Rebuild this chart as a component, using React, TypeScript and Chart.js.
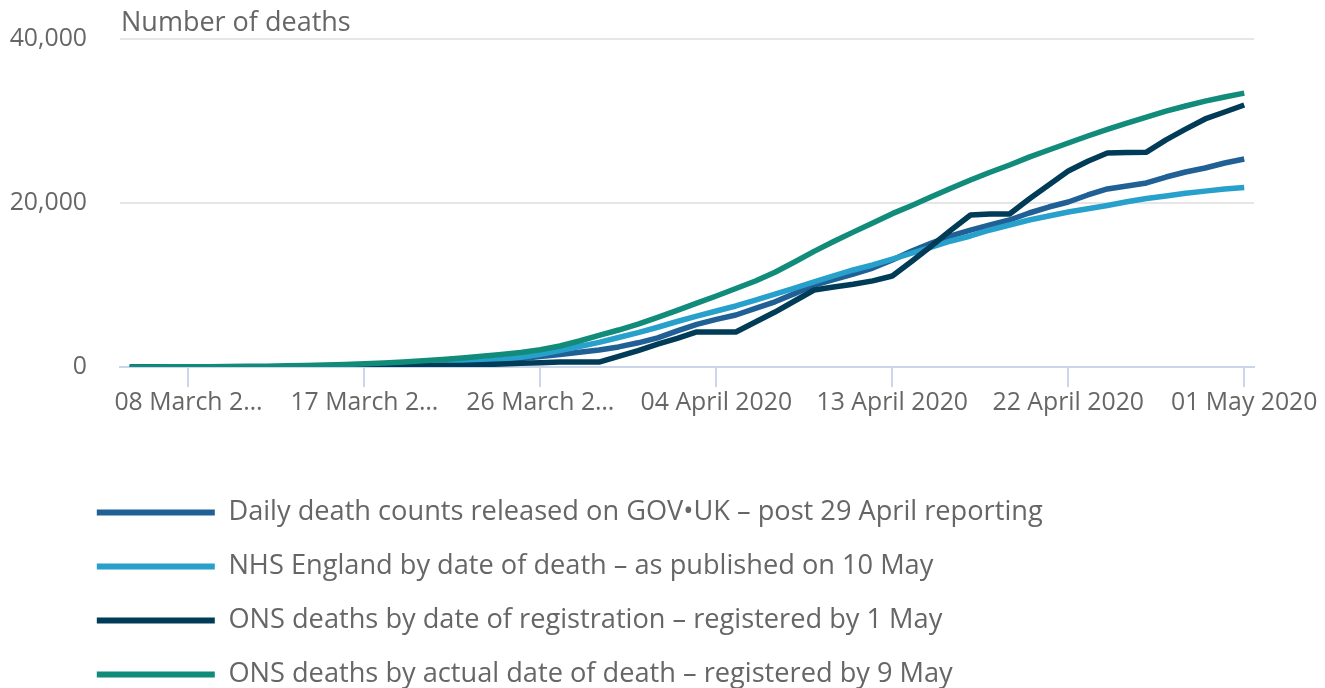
import React, { useEffect, useRef } from "react";
import { Chart, registerables } from "chart.js";

Chart.register(...registerables);

const dates = [
  "05 March 2020", "06 March 2020", "07 March 2020", "08 March 2020", "09 March 2020",
  "10 March 2020", "11 March 2020", "12 March 2020", "13 March 2020", "14 March 2020",
  "15 March 2020", "16 March 2020", "17 March 2020", "18 March 2020", "19 March 2020",
  "20 March 2020", "21 March 2020", "22 March 2020", "23 March 2020", "24 March 2020",
  "25 March 2020", "26 March 2020", "27 March 2020", "28 March 2020", "29 March 2020",
  "30 March 2020", "31 March 2020",
  "01 April 2020", "02 April 2020", "03 April 2020", "04 April 2020", "05 April 2020",
  "06 April 2020", "07 April 2020", "08 April 2020", "09 April 2020", "10 April 2020",
  "11 April 2020", "12 April 2020", "13 April 2020", "14 April 2020", "15 April 2020",
  "16 April 2020", "17 April 2020", "18 April 2020", "19 April 2020", "20 April 2020",
  "21 April 2020", "22 April 2020", "23 April 2020", "24 April 2020", "25 April 2020",
  "26 April 2020", "27 April 2020", "28 April 2020", "29 April 2020", "30 April 2020",
  "01 May 2020",
];

const tickIndices = [3, 12, 21, 30, 39, 48, 57];
const tickLabels = [
  "08 March 2…", "17 March 2…", "26 March 2…", "04 April 2020",
  "13 April 2020", "22 April 2020", "01 May 2020",
];
const yTicks = [0, 20000, 40000];

const seriesNames = [
  "Daily death counts released on GOV•UK – post 29 April reporting",
  "NHS England by date of death – as published on 10 May",
  "ONS deaths by date of registration – registered by 1 May",
  "ONS deaths by actual date of death – registered by 9 May",
];
const seriesColors = ["#206095", "#27a0cc", "#003c57", "#118c7b"];

const govUk = [
  2, 3, 5, 7, 10, 15, 20, 30, 40, 55, 75, 100, 140, 180, 240, 300, 400, 520, 670, 850,
  1050, 1280, 1530, 1800, 2070, 2450, 2950,
  3550, 4400, 5200, 5800, 6340, 7150, 7950, 8950, 10000, 10650, 11340, 12070, 13050, 14150,
  15120, 15980, 16700, 17320, 17930, 18780, 19510, 20120, 20980, 21710, 22070, 22440, 23170,
  23780, 24270, 24880,
  25370,
];

const nhsEngland = [
  2, 3, 5, 7, 10, 14, 20, 28, 38, 50, 68, 90, 125, 170, 230, 300, 400, 530, 700, 920,
  1200, 1550, 2000, 2500, 3000, 3600, 4200,
  4850, 5550, 6200, 6830, 7440, 8170, 8900, 9630, 10370, 11100, 11830, 12440, 13170, 13900,
  14630, 15370, 15980, 16710, 17320, 17930, 18410, 18900, 19300, 19700, 20150, 20550, 20850,
  21200, 21450, 21700,
  21900,
];

const onsRegistered = [
  0, 0, 0, 0, 5, 10, 15, 20, 30, 30, 30, 50, 70, 100, 140, 190, 190, 190, 280, 370,
  450, 530, 600, 600, 600, 1300, 2000,
  2800, 3500, 4270, 4270, 4270, 5490, 6700, 8050, 9390, 9760, 10100, 10500, 11100, 12900,
  14760, 16700, 18540, 18660, 18660, 20490, 22200, 23900, 25100, 26100, 26150, 26200, 27700,
  29000, 30250, 31100,
  31950,
];

const onsActual = [
  10, 15, 20, 30, 45, 60, 80, 105, 140, 180, 230, 300, 390, 500, 620, 760, 920, 1100, 1300, 1520,
  1780, 2100, 2560, 3170, 3850, 4510, 5240,
  6050, 6900, 7780, 8660, 9580, 10490, 11550, 12800, 14100, 15300, 16450, 17560, 18700, 19700,
  20750, 21800, 22800, 23750, 24630, 25600, 26460, 27320, 28170, 28980, 29750, 30480, 31200,
  31830, 32420, 32930,
  33400,
];

const seriesValues = [govUk, nhsEngland, onsRegistered, onsActual];
const drawOrder = [3, 2, 1, 0];

const FONT = "'Open Sans', 'Noto Sans', sans-serif";
const TEXT = "#666666";

export default function App() {
  const ref = useRef<HTMLCanvasElement | null>(null);

  useEffect(() => {
    if (!ref.current) return;
    const helperPlugin = {
      id: "yTitleAndLegendShift",
      afterLayout(chart: any) {
        if (chart.legend) {
          chart.legend.left = 70;
        }
      },
      afterDraw(chart: any) {
        const { ctx, chartArea } = chart;
        ctx.save();
        ctx.font = `27px ${FONT}`;
        ctx.fillStyle = TEXT;
        ctx.textAlign = "left";
        ctx.textBaseline = "alphabetic";
        ctx.fillText("Number of deaths", chartArea.left + 1, 31);
        ctx.restore();
      },
    };

    const chart = new Chart(ref.current, {
      type: "line",
      data: {
        labels: dates,
        datasets: seriesNames.map((name, i) => ({
          label: name,
          data: seriesValues[i].map((v, j) => ({ x: j, y: v })),
          borderColor: seriesColors[i],
          backgroundColor: seriesColors[i],
          borderWidth: 5.5,
          borderJoinStyle: "round" as const,
          pointRadius: 0,
          tension: 0,
          fill: false,
          order: drawOrder[i],
        })),
      },
      options: {
        animation: false,
        responsive: false,
        events: [],
        layout: { padding: { left: 0, right: 71, top: 39, bottom: 0 } },
        scales: {
          x: {
            type: "linear",
            min: -0.5,
            max: 57.5,
            afterBuildTicks: (s: any) => {
              s.ticks = tickIndices.map((v) => ({ value: v }));
            },
            afterFit: (s: any) => {
              s.height = 105;
            },
            ticks: {
              autoSkip: false,
              maxRotation: 0,
              padding: 1,
              color: TEXT,
              font: { family: FONT, size: 24.8 },
              callback: (v: any) => {
                const k = tickIndices.indexOf(Number(v));
                return k >= 0 ? tickLabels[k] : "";
              },
            },
            grid: {
              drawOnChartArea: false,
              drawTicks: true,
              tickLength: 20,
              color: "#ccd6eb",
              lineWidth: 2,
            },
            border: { display: true, color: "#ccd6eb", width: 2 },
          },
          y: {
            min: 0,
            max: 40000,
            afterBuildTicks: (s: any) => {
              s.ticks = yTicks.map((v) => ({ value: v }));
            },
            afterFit: (s: any) => {
              s.width = 120;
              s.paddingTop = 0;
              s.paddingBottom = 0;
            },
            ticks: {
              padding: 33,
              color: TEXT,
              font: { family: FONT, size: 24.8 },
              callback: (v: any) => Number(v).toLocaleString("en-US"),
            },
            grid: {
              drawTicks: false,
              color: (c: any) => (c.tick && c.tick.value === 0 ? "rgba(0,0,0,0)" : "#e6e6e6"),
              lineWidth: 2,
            },
            border: { display: false },
          },
        },
        plugins: {
          tooltip: { enabled: false },
          legend: {
            position: "bottom",
            align: "start",
            labels: {
              boxWidth: 118,
              boxHeight: 6,
              padding: 26.8,
              color: TEXT,
              font: { family: FONT, size: 27.2 },
              generateLabels: () =>
                seriesNames.map((n, i) => ({
                  text: n,
                  fillStyle: seriesColors[i],
                  strokeStyle: seriesColors[i],
                  lineWidth: 0,
                  hidden: false,
                  datasetIndex: i,
                  fontColor: TEXT,
                })),
            },
          },
        },
      },
      plugins: [helperPlugin],
    } as any);

    return () => chart.destroy();
  }, []);

  return (
    <div
      style={{
        position: "absolute",
        left: 0,
        top: 0,
        width: 1325,
        height: 688,
        overflow: "hidden",
        background: "#ffffff",
      }}
    >
      <canvas ref={ref} width={1325} height={698} style={{ display: "block" }} />
    </div>
  );
}
